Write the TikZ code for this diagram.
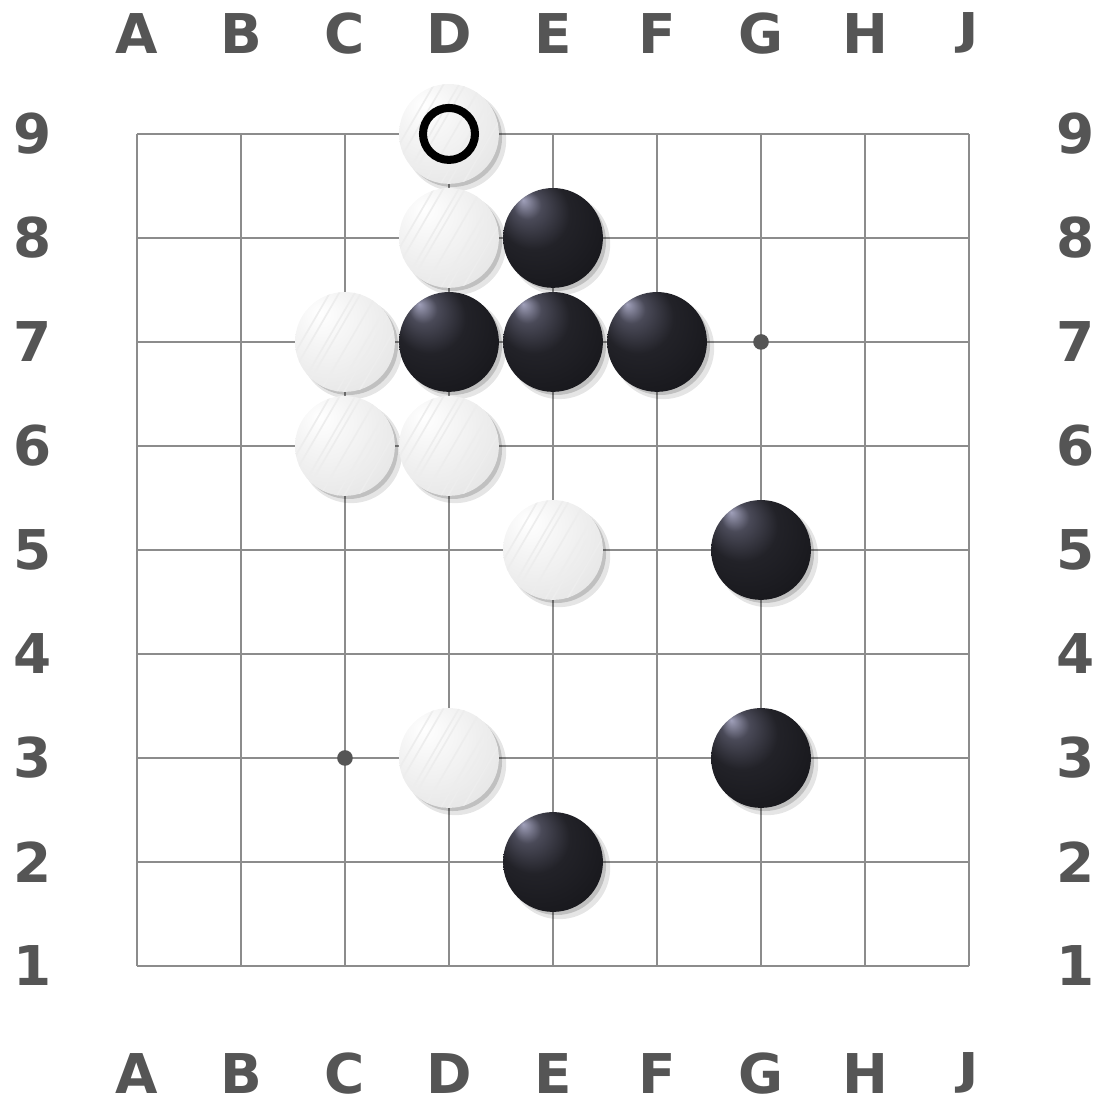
\documentclass[tikz,border=0pt]{standalone}
\usepackage{fontspec}
\setmainfont{DejaVu Sans}

\definecolor{labelgray}{HTML}{555555}
\definecolor{gridgray}{HTML}{8C8C8C}
\definecolor{stonehi}{HTML}{A0A0BA}
\definecolor{stonemid}{HTML}{4A4A58}
\definecolor{stonedark}{HTML}{222228}
\definecolor{stoneedge}{HTML}{0E0E11}

% 棋子的渐变
\pgfdeclareradialshading{blackstone}{\pgfpoint{-15bp}{19bp}}{color(0bp)=(stonehi); color(7bp)=(stonemid); color(18bp)=(stonedark); color(50bp)=(stoneedge)}
\pgfdeclareradialshading{whitestone}{\pgfpoint{-13bp}{15bp}}{color(0bp)=(white); color(14bp)=(black!4); color(34bp)=(black!9); color(50bp)=(black!16); color(70bp)=(black!30)}

% 棋子
\newcommand{\stoneshadow}[2]{%
  \fill[black,opacity=0.10] (#1,#2) ++(0.06,-0.06) circle (0.49);
  \fill[black,opacity=0.16] (#1,#2) ++(0.035,-0.035) circle (0.475);}
\newcommand{\blackstone}[2]{%
  \shade[shading=blackstone] (#1,#2) circle (0.48);}
\newcommand{\whitestone}[2]{%
  \shade[shading=whitestone] (#1,#2) circle (0.48);
  \begin{scope}
    \clip (#1,#2) circle (0.48);
    \foreach \d in {-0.42,-0.33,-0.18,-0.12,0.04,0.2,0.27,0.41}
      \draw[black!7, line width=0.45pt] (#1+\d-0.32,#2-0.55) -- (#1+\d+0.32,#2+0.55);
  \end{scope}}

\begin{document}
\begin{tikzpicture}[x=1cm, y=1cm,
    collabel/.style={font=\fontsize{15}{15}\selectfont\bfseries, text=labelgray, inner sep=0pt},
    gridline/.style={gridgray, line width=0.38pt}]
        \useasboundingbox (-1.317,-1.25) rectangle (9.183,9.288);

        % 棋盘
        \foreach \i in {0,...,8} {
          \draw[gridline] (\i,0) -- (\i,8);
          \draw[gridline] (0,\i) -- (8,\i);
        }
        \fill[labelgray] (6,6) circle (0.075);
        \fill[labelgray] (2,2) circle (0.075);

        % 坐标标签
        \foreach \l/\t [count=\i from 0] in {A/A,B/B,C/C,D/D,E/E,F/F,G/G,H/H,J/{\scalebox{1}[0.8]{J}}} {
          \node[collabel] (top-\l) at (\i,8.97) {\t};
          \node[collabel] (bot-\l) at (\i,-1.03) {\t};
        }
        \foreach \r in {1,...,9} {
          \node[collabel] (left-\r) at (-1.0,{\r-1}) {\r};
          \node[collabel] (right-\r) at (9.02,{\r-1}) {\r};
        }

        % 阴影
        \stoneshadow{3}{8} \stoneshadow{3}{7} \stoneshadow{2}{6}
        \stoneshadow{2}{5} \stoneshadow{3}{5} \stoneshadow{4}{4}
        \stoneshadow{3}{2}
        \stoneshadow{4}{7} \stoneshadow{3}{6} \stoneshadow{4}{6}
        \stoneshadow{5}{6} \stoneshadow{6}{4} \stoneshadow{6}{2}
        \stoneshadow{4}{1}

        % 白子
        \whitestone{3}{8} % D9
        \whitestone{3}{7} % D8
        \whitestone{2}{6} % C7
        \whitestone{2}{5} % C6
        \whitestone{3}{5} % D6
        \whitestone{4}{4} % E5
        \whitestone{3}{2} % D3

        % 黑子
        \blackstone{4}{7} % E8
        \blackstone{3}{6} % D7
        \blackstone{4}{6} % E7
        \blackstone{5}{6} % F7
        \blackstone{6}{4} % G5
        \blackstone{6}{2} % G3
        \blackstone{4}{1} % E2

        % 最后一手标记
        \draw[black, line width=2.2pt] (3,8) circle (0.25);
    \end{tikzpicture}
\end{document}
